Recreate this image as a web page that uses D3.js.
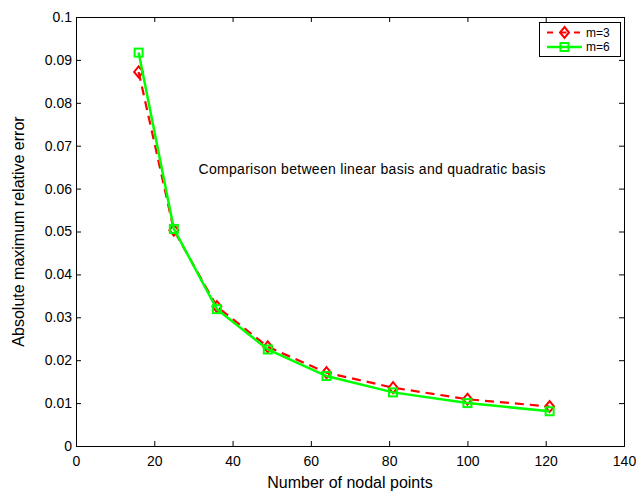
<!DOCTYPE html>
<html>
<head>
<meta charset="utf-8">
<script src="https://cdn.jsdelivr.net/npm/d3@7"></script>
<style>
  body { margin: 0; background: #fff; }
  svg { display: block; font-family: "Liberation Sans", Arial, Helvetica, sans-serif; }
</style>
</head>
<body>
<svg id="chart" width="638" height="494"></svg>
<script>
// Number of nodal points and the error for each basis order
const nodalPoints = [16, 25, 36, 49, 64, 81, 100, 121];
const errorM3 = [0.0872, 0.0503, 0.0325, 0.0231, 0.0171, 0.0136, 0.0109, 0.0092];
const errorM6 = [0.0917, 0.0506, 0.0319, 0.0225, 0.0163, 0.0125, 0.0100, 0.0081];
const xTicks = [0, 20, 40, 60, 80, 100, 120, 140];
const yTicks = [0, 0.01, 0.02, 0.03, 0.04, 0.05, 0.06, 0.07, 0.08, 0.09, 0.1];
const seriesNames = ["m=3", "m=6"];
const annotation = "Comparison between linear basis and quadratic basis";

const svg = d3.select("#chart");
const plotL = 76, plotR = 624, plotT = 17, plotB = 446;

const x = d3.scaleLinear().domain([0, 140]).range([plotL, plotR]);
const y = d3.scaleLinear().domain([0, 0.1]).range([plotB, plotT]);

// Axes with inward ticks, mirrored on the top and right edges
const fmt = d => String(+d.toFixed(3));
svg.append("g").attr("transform", `translate(0,${plotB})`)
  .call(d3.axisBottom(x).tickValues(xTicks).tickSize(-5).tickPadding(10).tickFormat(d => d));
svg.append("g").attr("transform", `translate(${plotL},0)`)
  .call(d3.axisLeft(y).tickValues(yTicks).tickSize(-5).tickPadding(4).tickFormat(fmt));
svg.append("g").attr("transform", `translate(0,${plotT})`)
  .call(d3.axisTop(x).tickValues(xTicks).tickSize(-5).tickFormat(""));
svg.append("g").attr("transform", `translate(${plotR},0)`)
  .call(d3.axisRight(y).tickValues(yTicks).tickSize(-5).tickFormat(""));

svg.selectAll(".domain").attr("stroke", "#000").attr("stroke-width", 1);
svg.selectAll(".tick line").attr("stroke", "#000");
svg.selectAll(".tick text").attr("font-size", 14).attr("fill", "#000")
  .attr("font-family", "'Liberation Sans', Arial, sans-serif");

// Axis titles
svg.append("text").attr("x", (plotL + plotR) / 2).attr("y", 488)
  .attr("text-anchor", "middle").attr("font-size", 16).text("Number of nodal points");
svg.append("text").attr("transform", `translate(24,${(plotT + plotB) / 2}) rotate(-90)`)
  .attr("text-anchor", "middle").attr("font-size", 16).text("Absolute maximum relative error");

// Annotation inside the plot
svg.append("text").attr("x", x(31.3)).attr("y", y(0.0635))
  .attr("font-size", 14).attr("textLength", 347).attr("lengthAdjust", "spacing")
  .text(annotation);

const line = d3.line().x(d => x(d[0])).y(d => y(d[1]));
const dataM3 = nodalPoints.map((n, i) => [n, errorM3[i]]);
const dataM6 = nodalPoints.map((n, i) => [n, errorM6[i]]);

const diamond = (g, cx, cy) => g.append("path")
  .attr("d", `M${cx},${cy - 5.5}L${cx + 4.5},${cy}L${cx},${cy + 5.5}L${cx - 4.5},${cy}Z`)
  .attr("fill", "none").attr("stroke", "#ff0000").attr("stroke-width", 2);
const square = (g, cx, cy) => g.append("rect")
  .attr("x", cx - 4).attr("y", cy - 4).attr("width", 8).attr("height", 8)
  .attr("fill", "none").attr("stroke", "#00ff00").attr("stroke-width", 2);

// m=3 series: red dashed with diamonds
const g3 = svg.append("g");
g3.append("path").datum(dataM3).attr("d", line)
  .attr("fill", "none").attr("stroke", "#ff0000").attr("stroke-width", 2.2)
  .attr("stroke-dasharray", "9,6");
dataM3.forEach(d => diamond(g3, x(d[0]), y(d[1])));

// m=6 series: green solid with squares
const g6 = svg.append("g");
g6.append("path").datum(dataM6).attr("d", line)
  .attr("fill", "none").attr("stroke", "#00ff00").attr("stroke-width", 2.5);
dataM6.forEach(d => square(g6, x(d[0]), y(d[1])));

// Legend
const lg = svg.append("g");
lg.append("rect").attr("x", 539.5).attr("y", 22.5).attr("width", 81).attr("height", 34)
  .attr("fill", "#fff").attr("stroke", "#000").attr("stroke-width", 1);
const rows = [32.5, 47];
lg.append("line").attr("x1", 547).attr("x2", 582).attr("y1", rows[0]).attr("y2", rows[0])
  .attr("stroke", "#ff0000").attr("stroke-width", 2.2).attr("stroke-dasharray", "6,7.5");
diamond(lg, 564.5, rows[0]);
lg.append("line").attr("x1", 547).attr("x2", 582).attr("y1", rows[1]).attr("y2", rows[1])
  .attr("stroke", "#00ff00").attr("stroke-width", 2.5);
square(lg, 564.5, rows[1]);
seriesNames.forEach((s, i) => lg.append("text").attr("x", 586).attr("y", rows[i] + 4)
  .attr("font-size", 12).text(s));
</script>
</body>
</html>
